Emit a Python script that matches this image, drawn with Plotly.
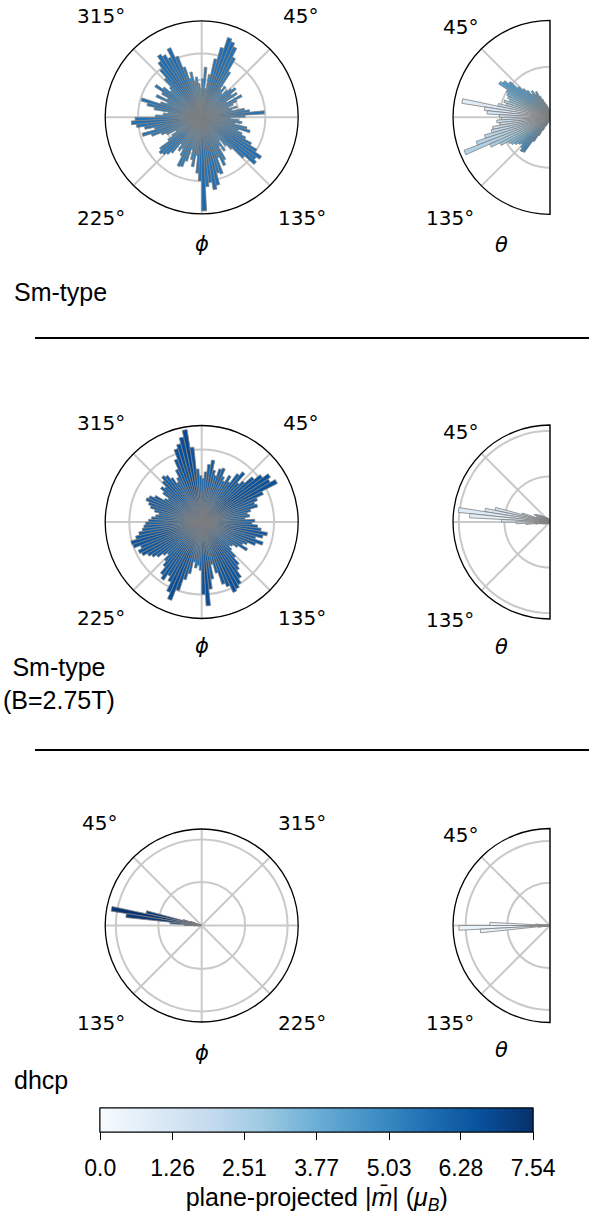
import plotly.graph_objects as go

W, H = 589, 1226

# ---------------- data ----------------
PHI_BINS = [
    1.5, 4.5, 7.5, 10.5, 13.5, 16.5, 19.5, 22.5, 25.5, 28.5,
    31.5, 34.5, 37.5, 40.5, 43.5, 46.5, 49.5, 52.5, 55.5, 58.5,
    61.5, 64.5, 67.5, 70.5, 73.5, 76.5, 79.5, 82.5, 85.5, 88.5,
    91.5, 94.5, 97.5, 100.5, 103.5, 106.5, 109.5, 112.5, 115.5, 118.5,
    121.5, 124.5, 127.5, 130.5, 133.5, 136.5, 139.5, 142.5, 145.5, 148.5,
    151.5, 154.5, 157.5, 160.5, 163.5, 166.5, 169.5, 172.5, 175.5, 178.5,
    181.5, 184.5, 187.5, 190.5, 193.5, 196.5, 199.5, 202.5, 205.5, 208.5,
    211.5, 214.5, 217.5, 220.5, 223.5, 226.5, 229.5, 232.5, 235.5, 238.5,
    241.5, 244.5, 247.5, 250.5, 253.5, 256.5, 259.5, 262.5, 265.5, 268.5,
    271.5, 274.5, 277.5, 280.5, 283.5, 286.5, 289.5, 292.5, 295.5, 298.5,
    301.5, 304.5, 307.5, 310.5, 313.5, 316.5, 319.5, 322.5, 325.5, 328.5,
    331.5, 334.5, 337.5, 340.5, 343.5, 346.5, 349.5, 352.5, 355.5, 358.5,
]
THETA_BINS = [
    1.5, 4.5, 7.5, 10.5, 13.5, 16.5, 19.5, 22.5, 25.5, 28.5,
    31.5, 34.5, 37.5, 40.5, 43.5, 46.5, 49.5, 52.5, 55.5, 58.5,
    61.5, 64.5, 67.5, 70.5, 73.5, 76.5, 79.5, 82.5, 85.5, 88.5,
    91.5, 94.5, 97.5, 100.5, 103.5, 106.5, 109.5, 112.5, 115.5, 118.5,
    121.5, 124.5, 127.5, 130.5, 133.5, 136.5, 139.5, 142.5, 145.5, 148.5,
    151.5, 154.5, 157.5, 160.5, 163.5, 166.5, 169.5, 172.5, 175.5, 178.5,
]

# Sm-type
SM_PHI_R = [
    40, 52, 30, 45, 62, 75, 87, 84, 80, 70,
    55, 35, 40, 32, 38, 42, 46, 38, 44, 30,
    47, 40, 35, 30, 38, 32, 45, 50, 65, 45,
    30, 38, 42, 35, 48, 52, 40, 45, 50, 58,
    66, 74, 70, 73, 60, 45, 38, 30, 42, 35,
    50, 55, 45, 62, 60, 72, 76, 68, 72, 97,
    66, 58, 40, 52, 45, 35, 48, 55, 56, 45,
    38, 42, 35, 48, 52, 55, 57, 54, 42, 36,
    30, 40, 45, 55, 64, 50, 60, 68, 73, 69,
    48, 40, 35, 50, 58, 65, 45, 38, 52, 40,
    48, 58, 50, 42, 45, 55, 65, 72, 78, 75,
    70, 79, 68, 55, 42, 48, 38, 42, 35, 30,
]
SM_PHI_M = [
    5.2, 5.4, 4.9, 5.1, 5.5, 5.6, 5.8, 5.7, 5.6, 5.5,
    5.3, 5.0, 5.1, 4.9, 5.0, 5.2, 5.3, 5.1, 5.2, 4.9,
    5.3, 5.1, 5.0, 4.8, 5.1, 4.9, 5.2, 5.4, 5.6, 5.2,
    4.9, 5.0, 5.2, 5.0, 5.3, 5.4, 5.1, 5.2, 5.4, 5.5,
    5.6, 5.7, 5.6, 5.7, 5.5, 5.2, 5.0, 4.9, 5.1, 5.0,
    5.3, 5.4, 5.2, 5.5, 5.5, 5.7, 5.7, 5.6, 5.6, 5.9,
    5.6, 5.5, 5.1, 5.3, 5.2, 5.0, 5.3, 5.4, 5.4, 5.2,
    5.0, 5.1, 5.0, 5.3, 5.4, 5.4, 5.5, 5.4, 5.1, 5.0,
    4.9, 5.1, 5.2, 5.4, 5.5, 5.3, 5.5, 5.6, 5.7, 5.6,
    5.2, 5.1, 5.0, 5.3, 5.5, 5.6, 5.2, 5.0, 5.3, 5.1,
    5.3, 5.5, 5.3, 5.1, 5.2, 5.4, 5.6, 5.7, 5.8, 5.7,
    5.6, 5.8, 5.6, 5.4, 5.1, 5.2, 5.0, 5.1, 5.0, 4.9,
]
SM_THETA_R = [
    3, 5, 8, 10, 12, 14, 16, 20, 24, 30,
    28, 33, 30, 36, 40, 45, 55, 60, 63, 52,
    50, 48, 45, 50, 47, 55, 92, 68, 65, 52,
    50, 55, 52, 60, 62, 70, 80, 95, 68, 58,
    50, 48, 45, 42, 40, 43, 46, 45, 30, 22,
    15, 10, 8, 6, 5, 4, 3, 2, 2, 1,
]
SM_THETA_M = [
    5.5, 5.4, 5.3, 5.2, 5.1, 5.0, 5.0, 4.9, 4.9, 4.8,
    4.8, 4.7, 4.7, 4.6, 4.6, 4.5, 4.5, 4.4, 4.2, 3.9,
    3.6, 3.3, 3.0, 2.6, 2.2, 1.9, 0.9, 1.0, 1.2, 1.3,
    1.4, 1.5, 1.6, 1.8, 2.0, 2.2, 2.3, 2.4, 2.6, 2.9,
    3.3, 3.6, 4.0, 4.4, 4.8, 5.0, 5.2, 5.4, 5.6, 5.7,
    5.8, 5.9, 6.0, 6.0, 6.1, 6.1, 6.2, 6.2, 6.3, 6.3,
]

# Sm-type (B=2.75T)
SMB_PHI_R = [
    45, 52, 60, 65, 55, 50, 58, 60, 52, 48,
    56, 50, 62, 67, 55, 60, 70, 78, 85, 82,
    88, 70, 62, 58, 60, 52, 48, 50, 45, 55,
    52, 58, 62, 69, 65, 58, 67, 60, 52, 48,
    55, 45, 40, 38, 42, 50, 58, 62, 70, 75,
    78, 80, 72, 68, 55, 45, 60, 70, 87, 75,
    50, 45, 48, 42, 55, 62, 75, 87, 80, 70,
    65, 72, 68, 60, 55, 48, 52, 58, 62, 65,
    70, 72, 68, 75, 76, 70, 66, 62, 60, 58,
    55, 52, 48, 45, 50, 55, 58, 62, 60, 55,
    45, 42, 50, 55, 52, 58, 62, 60, 55, 48,
    52, 60, 70, 80, 84, 90, 97, 78, 55, 48,
]
SMB_PHI_M = [
    6.0, 6.1, 6.2, 6.3, 6.1, 6.0, 6.2, 6.2, 6.0, 5.9,
    6.1, 6.0, 6.2, 6.3, 6.1, 6.2, 6.4, 6.5, 6.6, 6.5,
    6.6, 6.4, 6.2, 6.1, 6.2, 6.0, 5.9, 6.0, 5.9, 6.1,
    6.0, 6.2, 6.2, 6.4, 6.3, 6.1, 6.3, 6.2, 6.0, 5.9,
    6.1, 5.9, 5.8, 5.8, 5.9, 6.0, 6.2, 6.2, 6.4, 6.5,
    6.5, 6.6, 6.4, 6.3, 6.1, 5.9, 6.2, 6.4, 6.7, 6.5,
    6.0, 5.9, 6.0, 5.9, 6.1, 6.2, 6.5, 6.7, 6.6, 6.4,
    6.3, 6.4, 6.3, 6.2, 6.1, 6.0, 6.0, 6.2, 6.2, 6.3,
    6.4, 6.4, 6.3, 6.5, 6.5, 6.4, 6.3, 6.2, 6.2, 6.1,
    6.1, 6.0, 6.0, 5.9, 6.0, 6.1, 6.2, 6.2, 6.2, 6.1,
    5.9, 5.9, 6.0, 6.1, 6.0, 6.2, 6.2, 6.2, 6.1, 6.0,
    6.0, 6.2, 6.4, 6.6, 6.6, 6.7, 6.8, 6.5, 6.1, 6.0,
]
SMB_THETA_R = [
    1, 1, 2, 2, 2, 3, 3, 3, 4, 4,
    5, 5, 6, 6, 7, 8, 9, 10, 12, 14,
    16, 18, 10, 15, 30, 58, 68, 95, 83, 50,
    35, 25, 15, 10, 8, 7, 6, 5, 4, 4,
    3, 3, 3, 2, 2, 2, 2, 2, 1, 1,
    1, 1, 1, 1, 1, 1, 1, 1, 1, 1,
]
SMB_THETA_M = [
    3.0, 3.0, 2.9, 2.9, 2.8, 2.8, 2.7, 2.7, 2.6, 2.6,
    2.5, 2.5, 2.4, 2.3, 2.2, 2.1, 2.0, 2.0, 1.9, 1.9,
    1.8, 1.7, 1.6, 1.5, 1.5, 1.3, 1.1, 0.9, 0.8, 0.9,
    1.0, 1.1, 1.2, 1.3, 1.4, 1.5, 1.6, 1.7, 1.8, 1.9,
    2.0, 2.1, 2.2, 2.3, 2.4, 2.5, 2.6, 2.7, 2.8, 2.9,
    3.0, 3.0, 3.0, 3.0, 3.0, 3.0, 3.0, 3.0, 3.0, 3.0,
]

# dhcp
DHCP_PHI_R = [
    0, 0, 0, 0, 0, 0, 0, 0, 0, 0,
    0, 0, 0, 0, 0, 0, 0, 0, 0, 0,
    0, 0, 0, 12, 20, 59, 95, 79, 33, 18,
    8, 4, 0, 0, 0, 0, 0, 0, 0, 0,
    0, 0, 0, 0, 0, 0, 0, 0, 0, 0,
    0, 0, 0, 0, 0, 0, 0, 0, 0, 0,
    0, 0, 0, 0, 0, 0, 0, 0, 0, 0,
    0, 0, 0, 0, 0, 0, 0, 0, 0, 0,
    0, 0, 0, 0, 0, 0, 0, 0, 0, 0,
    0, 0, 0, 0, 0, 0, 0, 0, 0, 0,
    0, 0, 0, 0, 0, 0, 0, 0, 0, 0,
    0, 0, 0, 0, 0, 0, 0, 0, 0, 0,
]
DHCP_PHI_M = [
    7.0, 7.0, 7.0, 7.0, 7.0, 7.0, 7.0, 7.0, 7.0, 7.0,
    7.0, 7.0, 7.0, 7.0, 7.0, 7.0, 7.0, 7.0, 7.0, 7.0,
    7.0, 7.0, 7.0, 6.9, 7.0, 7.2, 7.4, 7.3, 7.1, 7.0,
    6.9, 6.8, 7.0, 7.0, 7.0, 7.0, 7.0, 7.0, 7.0, 7.0,
    7.0, 7.0, 7.0, 7.0, 7.0, 7.0, 7.0, 7.0, 7.0, 7.0,
    7.0, 7.0, 7.0, 7.0, 7.0, 7.0, 7.0, 7.0, 7.0, 7.0,
    7.0, 7.0, 7.0, 7.0, 7.0, 7.0, 7.0, 7.0, 7.0, 7.0,
    7.0, 7.0, 7.0, 7.0, 7.0, 7.0, 7.0, 7.0, 7.0, 7.0,
    7.0, 7.0, 7.0, 7.0, 7.0, 7.0, 7.0, 7.0, 7.0, 7.0,
    7.0, 7.0, 7.0, 7.0, 7.0, 7.0, 7.0, 7.0, 7.0, 7.0,
    7.0, 7.0, 7.0, 7.0, 7.0, 7.0, 7.0, 7.0, 7.0, 7.0,
    7.0, 7.0, 7.0, 7.0, 7.0, 7.0, 7.0, 7.0, 7.0, 7.0,
]
DHCP_THETA_R = [
    0, 0, 0, 0, 0, 0, 0, 0, 0, 0,
    0, 0, 0, 0, 0, 0, 0, 0, 0, 0,
    0, 0, 0, 0, 0, 0, 2, 5, 15, 62,
    94, 72, 12, 5, 0, 0, 0, 0, 0, 0,
    0, 0, 0, 0, 0, 0, 0, 0, 0, 0,
    0, 0, 0, 0, 0, 0, 0, 0, 0, 0,
]
DHCP_THETA_M = [
    0.6, 0.6, 0.6, 0.6, 0.6, 0.6, 0.6, 0.6, 0.6, 0.6,
    0.6, 0.6, 0.6, 0.6, 0.6, 0.6, 0.6, 0.6, 0.6, 0.6,
    0.6, 0.6, 0.6, 0.6, 0.6, 0.6, 0.7, 0.7, 0.6, 0.6,
    0.5, 0.6, 0.7, 0.7, 0.6, 0.6, 0.6, 0.6, 0.6, 0.6,
    0.6, 0.6, 0.6, 0.6, 0.6, 0.6, 0.6, 0.6, 0.6, 0.6,
    0.6, 0.6, 0.6, 0.6, 0.6, 0.6, 0.6, 0.6, 0.6, 0.6,
]

ROW_LABELS = ["Sm-type", "Sm-type<br>(B=2.75T)", "dhcp"]
PHI_TICK_LABELS_CW = ["315°", "45°", "225°", "135°"]    # TL, TR, BL, BR
PHI_TICK_LABELS_CCW = ["45°", "315°", "135°", "225°"]   # TL, TR, BL, BR
THETA_TICK_LABELS = ["45°", "135°"]
CBAR_TICKS = [0.0, 1.26, 2.51, 3.77, 5.03, 6.28, 7.54]
CBAR_TEXT = ["0.0", "1.26", "2.51", "3.77", "5.03", "6.28", "7.54"]
M_MAX = 7.54
BLUES = ["rgb(247,251,255)", "rgb(222,235,247)", "rgb(198,219,239)",
         "rgb(158,202,225)", "rgb(107,174,214)", "rgb(66,146,198)",
         "rgb(33,113,181)", "rgb(8,81,156)", "rgb(8,48,107)"]

# ---------------- layout helpers ----------------
GRID = "#c9c9c9"
TICKFONT = dict(family="DejaVu Sans", size=20, color="black")
ROW_CY = [117.3, 522.0, 925.5]
PHI_CX, PHI_R = 201.7, 96.5
THETA_EDGE, THETA_R = 550, 97


def dom(x0, x1, cy, hh):
    return dict(x=[x0 / W, x1 / W], y=[1 - (cy + hh) / H, 1 - (cy - hh) / H])


def phi_polar(cy, direction, grid_r):
    return dict(
        domain=dom(PHI_CX - PHI_R, PHI_CX + PHI_R, cy, PHI_R),
        bgcolor="white",
        angularaxis=dict(rotation=90, direction=direction,
                         tickvals=[0, 45, 90, 135, 180, 225, 270, 315],
                         showticklabels=False, ticks="",
                         showline=True, linecolor="black",
                         linewidth=1.3, showgrid=True, gridcolor=GRID, gridwidth=1.5),
        radialaxis=dict(range=[0, 100], tickvals=grid_r, showticklabels=False,
                        ticks="", showline=False, showgrid=True,
                        gridcolor=GRID, gridwidth=1.5),
    )


def theta_polar(cy, grid_r):
    return dict(
        domain=dom(THETA_EDGE - THETA_R, THETA_EDGE, cy, THETA_R),
        sector=[90, 270],
        bgcolor="white",
        angularaxis=dict(rotation=90, direction="counterclockwise",
                         tickvals=[0, 45, 90, 135, 180],
                         showticklabels=False, ticks="",
                         showline=True, linecolor="black",
                         linewidth=1.3, showgrid=True, gridcolor=GRID, gridwidth=1.5),
        radialaxis=dict(range=[0, 100], tickvals=grid_r, showticklabels=False,
                        ticks="", showline=False, showgrid=True,
                        gridcolor=GRID, gridwidth=1.5),
    )


fig = go.Figure()

# phi panels use coloraxis, theta panels coloraxis2 (same scale, same bar)
panels = [
    ("polar", PHI_BINS, SM_PHI_R, SM_PHI_M, "coloraxis"),
    ("polar2", THETA_BINS, SM_THETA_R, SM_THETA_M, "coloraxis2"),
    ("polar3", PHI_BINS, SMB_PHI_R, SMB_PHI_M, "coloraxis"),
    ("polar4", THETA_BINS, SMB_THETA_R, SMB_THETA_M, "coloraxis2"),
    ("polar5", PHI_BINS, DHCP_PHI_R, DHCP_PHI_M, "coloraxis"),
    ("polar6", THETA_BINS, DHCP_THETA_R, DHCP_THETA_M, "coloraxis2"),
]
for sub, th, r, m, cax in panels:
    fig.add_trace(go.Barpolar(
        r=r, theta=th, width=3, subplot=sub,
        marker=dict(color=m, coloraxis=cax,
                    line=dict(color="gray", width=0.8)),
        showlegend=False, hoverinfo="skip",
    ))

CB_COMMON = dict(
    orientation="h", x=316.7 / W, xanchor="center",
    y=1 - 1108 / H, yanchor="top",
    len=433, lenmode="pixels", thickness=24, thicknessmode="pixels",
    xpad=0, ypad=0, outlinecolor="black", outlinewidth=1,
    tickvals=CBAR_TICKS, ticktext=CBAR_TEXT,
)
# bar with the short visible tick marks
colorbar_a = dict(CB_COMMON, ticks="outside", ticklen=8, tickwidth=1.2,
                  tickcolor="black", showticklabels=False)
# same bar carrying the tick labels and title, set a little lower
colorbar_b = dict(
    CB_COMMON, ticks="outside", ticklen=16, tickwidth=1,
    tickcolor="rgba(0,0,0,0)",
    tickfont=dict(family="Liberation Sans", size=23, color="black"),
    title=dict(text="plane-projected |<i>m̄</i>| (<i>μ<sub>B</sub></i>)",
               side="bottom",
               font=dict(family="Liberation Sans", size=25, color="black")),
)
CSCALE = [[i / 8, c] for i, c in enumerate(BLUES)]

fig.update_layout(
    width=W, height=H,
    margin=dict(l=0, r=0, t=0, b=0, autoexpand=False),
    paper_bgcolor="white", plot_bgcolor="white",
    polar=phi_polar(ROW_CY[0], "clockwise", [39, 66]),
    polar2=theta_polar(ROW_CY[0], [52]),
    polar3=phi_polar(ROW_CY[1], "clockwise", [37, 75]),
    polar4=theta_polar(ROW_CY[1], [47, 94]),
    polar5=phi_polar(ROW_CY[2], "counterclockwise", [45, 89]),
    polar6=theta_polar(ROW_CY[2], [44, 87]),
    coloraxis=dict(colorscale=CSCALE, cmin=0, cmax=M_MAX, colorbar=colorbar_a),
    coloraxis2=dict(colorscale=CSCALE, cmin=0, cmax=M_MAX, colorbar=colorbar_b),
)


def txt(text, x, y, font, xanchor="center", align="center"):
    return dict(text=text, x=x / W, y=1 - y / H, xref="paper", yref="paper",
                xanchor=xanchor, yanchor="middle", align=align, showarrow=False,
                font=font)


ann = []
# angular tick labels (pixel positions of each label)
PHI_LABEL_XY = [
    [(101, 16), (300, 16), (101, 218), (301.7, 218)],
    [(101, 422.5), (300, 422.5), (101, 618.3), (301.7, 618.3)],
    [(99, 823), (301.7, 823), (101, 1023.3), (301.7, 1023.3)],
]
THETA_LABEL_XY = [
    [(460, 27), (450, 218.3)],
    [(460, 431.7), (450, 620)],
    [(460, 835), (450, 1023.3)],
]
for i in range(3):
    labels = PHI_TICK_LABELS_CCW if i == 2 else PHI_TICK_LABELS_CW
    for lab, (x, y) in zip(labels, PHI_LABEL_XY[i]):
        ann.append(txt(lab, x, y, TICKFONT))
    for lab, (x, y) in zip(THETA_TICK_LABELS, THETA_LABEL_XY[i]):
        ann.append(txt(lab, x, y, TICKFONT))

AX_LABEL_Y = [(244, 245), (646, 647), (1053, 1050)]
AXFONT = dict(family="DejaVu Sans", size=21, color="black")
for yphi, yth in AX_LABEL_Y:
    ann.append(txt("<i>ϕ</i>", PHI_CX, yphi, AXFONT))
    ann.append(txt("<i>θ</i>", 501, yth, AXFONT))

ROWFONT = dict(family="Liberation Sans", size=25, color="black")
ann.append(txt(ROW_LABELS[0], 12, 292, ROWFONT, xanchor="left", align="left"))
ann.append(txt(ROW_LABELS[1], 59, 683, ROWFONT))
ann.append(txt(ROW_LABELS[2], 12, 1080, ROWFONT, xanchor="left", align="left"))
fig.update_layout(annotations=ann)

shapes = []
for ly in [338, 750]:
    shapes.append(dict(type="line", xref="paper", yref="paper",
                       x0=35 / W, x1=1.0, y0=1 - ly / H, y1=1 - ly / H,
                       line=dict(color="black", width=2)))
fig.update_layout(shapes=shapes)

fig.write_html("out.html",
               config={"displayModeBar": False},
               post_script="document.body.style.margin='0';"
                           "document.body.style.overflow='hidden';")
